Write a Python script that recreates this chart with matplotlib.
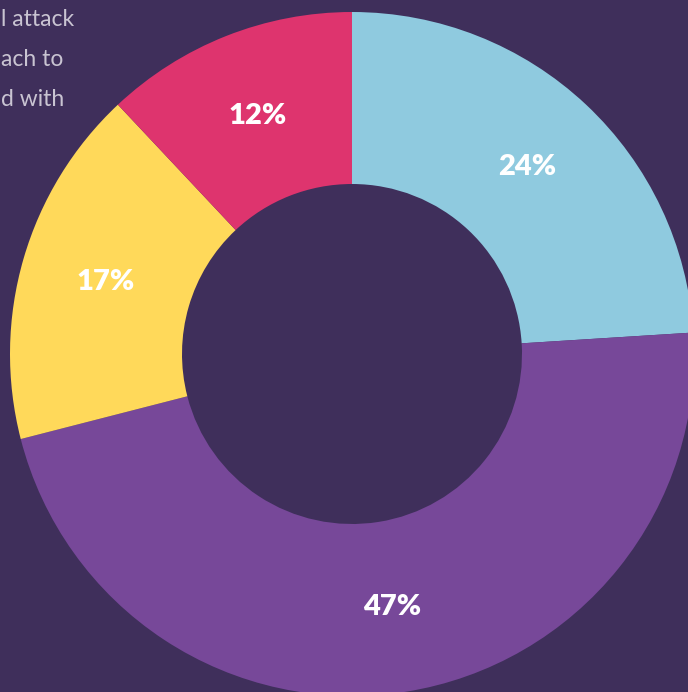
import matplotlib
matplotlib.use("Agg")
import matplotlib.pyplot as plt

labels = ["A", "B", "C", "D"]
values = [24, 47, 17, 12]
colors = ["#8FCADF", "#774899", "#FFD95A", "#DE346E"]
side_text = ["l attack", "ach to", "d with"]

BG = "#3F2F5B"
W, H = 688, 692
fig = plt.figure(figsize=(W / 100, H / 100), dpi=100, facecolor=BG)
ax = fig.add_axes([0, 0, 1, 1])
ax.set_facecolor(BG)

cx, cy, R = 352, H - 354, 342
wedges, texts, autotexts = ax.pie(
    values, colors=colors, startangle=90, counterclock=False,
    radius=R, center=(cx, cy), frame=True,
    wedgeprops=dict(width=172, linewidth=0),
    autopct=lambda p: f"{p:.0f}%", pctdistance=0.75,
    textprops=dict(color="white", fontsize=21, fontweight="heavy", family="Lato"),
)
for t in autotexts:
    t.set_va("center")
    t.set_ha("center")

for i, s in enumerate(side_text):
    ax.text(1, H - (19 + 40 * i), s, ha="left", va="center", color="#C9C4D2",
            fontsize=16.5, family="Lato")

ax.set_xlim(0, W)
ax.set_ylim(0, H)
ax.set_aspect("equal")
ax.axis("off")
fig.savefig("out.png", dpi=100, facecolor=BG)
